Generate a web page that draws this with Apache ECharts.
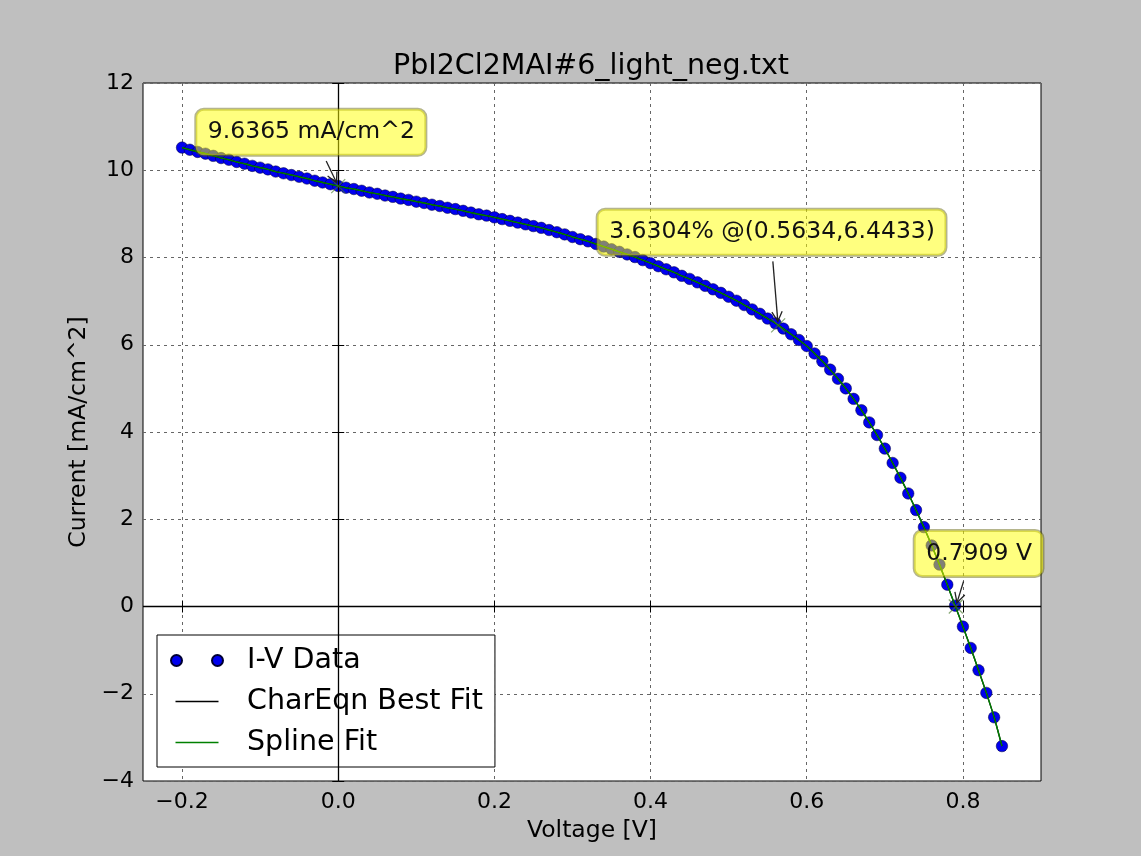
<!DOCTYPE html>
<html><head><meta charset="utf-8">
<script src="https://cdn.jsdelivr.net/npm/echarts@6/dist/echarts.min.js"></script>
<style>html,body{margin:0;padding:0;background:#bfbfbf}#c{width:1141px;height:856px}</style>
</head><body><div id="c"></div>
<script>
const voltage = [-0.20,-0.19,-0.18,-0.17,-0.16,-0.15,-0.14,-0.13,-0.12,-0.11,-0.10,-0.09,-0.08,-0.07,-0.06,-0.05,-0.04,-0.03,-0.02,-0.01,
0.00,0.01,0.02,0.03,0.04,0.05,0.06,0.07,0.08,0.09,0.10,0.11,0.12,0.13,0.14,0.15,0.16,0.17,0.18,0.19,
0.20,0.21,0.22,0.23,0.24,0.25,0.26,0.27,0.28,0.29,0.30,0.31,0.32,0.33,0.34,0.35,0.36,0.37,0.38,0.39,
0.40,0.41,0.42,0.43,0.44,0.45,0.46,0.47,0.48,0.49,0.50,0.51,0.52,0.53,0.54,0.55,0.56,0.57,0.58,0.59,
0.60,0.61,0.62,0.63,0.64,0.65,0.66,0.67,0.68,0.69,0.70,0.71,0.72,0.73,0.74,0.75,0.76,0.77,0.78,0.79,
0.80,0.81,0.82,0.83,0.84,0.85];
const current = [10.52,10.47,10.42,10.38,10.33,10.28,10.24,10.19,10.15,10.10,10.06,10.02,9.97,9.93,9.89,9.85,9.81,9.76,9.72,9.68,
9.64,9.60,9.57,9.53,9.49,9.46,9.42,9.39,9.35,9.32,9.28,9.25,9.21,9.18,9.14,9.11,9.07,9.03,8.99,8.96,
8.92,8.88,8.84,8.80,8.76,8.72,8.68,8.63,8.58,8.53,8.47,8.42,8.37,8.31,8.25,8.19,8.13,8.07,8.01,7.94,
7.87,7.80,7.73,7.66,7.58,7.51,7.43,7.35,7.27,7.19,7.10,7.01,6.91,6.81,6.71,6.60,6.49,6.37,6.24,6.11,
5.97,5.80,5.62,5.43,5.22,5.00,4.76,4.50,4.22,3.93,3.62,3.29,2.95,2.59,2.21,1.82,1.40,0.96,0.50,0.02,
-0.46,-0.95,-1.46,-1.98,-2.54,-3.20];
const xTicks = [-0.2,0.0,0.2,0.4,0.6,0.8];
const yTicks = [-4,-2,0,2,4,6,8,10,12];
const annoTexts = ['9.6365 mA/cm^2','3.6304% @(0.5634,6.4433)','0.7909 V'];
const annoTargets = [[0,9.6365],[0.5634,6.4433],[0.7909,0]];
const annoTextAnchors = [[-0.167,10.87],[0.347,8.58],[0.753,1.216]];
const annoArrowStarts = [[-0.0154,10.21],[0.5566,7.91],[0.8008,0.573]];

const FONT = 'DejaVu Sans';
const pts = voltage.map((v,i)=>[v,current[i]]);
const minus = s => String(s).replace('-', '\u2212');
const twoDots = 'path://M0,5.5A5.5,5.5,0,1,1,11,5.5A5.5,5.5,0,1,1,0,5.5ZM41,5.5A5.5,5.5,0,1,1,52,5.5A5.5,5.5,0,1,1,41,5.5Z';
const lineIcon = 'path://M0,0M52,11M4.5,4.8h43v1.4h-43z';

const chart = echarts.init(document.getElementById('c'), null, {renderer:'canvas'});
const gridLine = {show:true, lineStyle:{color:'#666', type:[3,4], width:1}};
const tickStyle = {color:'#000', width:1};
chart.setOption({
  animation:false,
  backgroundColor:'#bfbfbf',
  title:{text:'PbI2Cl2MAI#6_light_neg.txt', left:586, top:47, textAlign:'center',
    textStyle:{fontFamily:FONT, fontSize:28.5, fontWeight:'normal', color:'#000'}},
  grid:{left:143, top:83, right:100, bottom:75, show:true, backgroundColor:'#fff', borderColor:'#000', borderWidth:1},
  legend:{orient:'vertical', left:157, top:635, selectedMode:false,
    data:[{name:'I-V Data', icon:twoDots},{name:'CharEqn Best Fit', icon:lineIcon},{name:'Spline Fit', icon:lineIcon}],
    itemWidth:52, itemHeight:11, itemGap:12, padding:[11,12,10,13],
    backgroundColor:'#fff', borderColor:'#000', borderWidth:1, borderRadius:0,
    textStyle:{fontFamily:FONT, fontSize:28.5, color:'#000', padding:[0,0,0,19]}},
  xAxis:[
    {type:'value', min:-0.25, max:0.9, position:'bottom',
     axisLine:{show:false},
     axisTick:{show:true, inside:true, length:6, customValues:xTicks, lineStyle:tickStyle},
     axisLabel:{customValues:xTicks, formatter:v=>minus(v.toFixed(1)), margin:10, fontFamily:FONT, fontSize:22, color:'#000'},
     splitLine:gridLine,
     name:'Voltage [V]', nameLocation:'middle', nameGap:38,
     nameTextStyle:{fontFamily:FONT, fontSize:23.5, color:'#000'}},
    {type:'value', min:-0.25, max:0.9, position:'top',
     axisLine:{show:false},
     axisTick:{show:true, inside:true, length:6, customValues:xTicks, lineStyle:tickStyle},
     axisLabel:{show:false}, splitLine:{show:false}}
  ],
  yAxis:[
    {type:'value', min:-4, max:12, interval:2, position:'left',
     axisLine:{show:false},
     axisTick:{show:true, inside:true, length:6, lineStyle:tickStyle},
     axisLabel:{formatter:v=>minus(v), margin:9, fontFamily:FONT, fontSize:22, color:'#000'},
     splitLine:gridLine,
     name:'Current [mA/cm^2]', nameLocation:'middle', nameGap:51,
     nameTextStyle:{fontFamily:FONT, fontSize:23.5, color:'#000'}},
    {type:'value', min:-4, max:12, interval:2, position:'right',
     axisLine:{show:false},
     axisTick:{show:true, inside:true, length:6, lineStyle:tickStyle},
     axisLabel:{show:false}, splitLine:{show:false}}
  ],
  series:[
    {name:'I-V Data', type:'scatter', data:pts, symbol:'circle', symbolSize:11.5, z:2,
     itemStyle:{color:'#0000ee', borderColor:'#000033', borderWidth:0.5, opacity:1},
     markLine:{silent:true, symbol:'none', label:{show:false}, animation:false,
       lineStyle:{color:'#000', type:'solid', width:1.3},
       data:[{xAxis:0},{yAxis:0}]}},
    {name:'CharEqn Best Fit', type:'line', data:pts, symbol:'none', showSymbol:false, smooth:0.2, z:3,
     lineStyle:{color:'#000', width:1.4}, itemStyle:{color:'#000'}},
    {name:'Spline Fit', type:'line', data:pts, symbol:'none', showSymbol:false, smooth:0.2, z:4,
     lineStyle:{color:'#008000', width:1.4}, itemStyle:{color:'#008000'}},
    {name:'keyPoints', type:'scatter', data:annoTargets, symbol:'path://M0,0L10,10M10,0L0,10', symbolSize:14, z:5,
     itemStyle:{color:'rgba(0,0,0,0)', borderColor:'rgba(70,120,40,0.8)', borderWidth:1.2}}
  ]
});

const g = [];
annoTexts.forEach((t,i)=>{
  const a = chart.convertToPixel({gridIndex:0}, annoTextAnchors[i]);
  const s = chart.convertToPixel({gridIndex:0}, annoArrowStarts[i]);
  const e = chart.convertToPixel({gridIndex:0}, annoTargets[i]);
  const dx = e[0]-s[0], dy = e[1]-s[1], L = Math.hypot(dx,dy);
  const ux = dx/L, uy = dy/L;
  const tip = [e[0]-ux*4, e[1]-uy*4];
  const ang = 28*Math.PI/180, hl = 11;
  const h1 = [tip[0]-hl*(ux*Math.cos(ang)-uy*Math.sin(ang)), tip[1]-hl*(uy*Math.cos(ang)+ux*Math.sin(ang))];
  const h2 = [tip[0]-hl*(ux*Math.cos(ang)+uy*Math.sin(ang)), tip[1]-hl*(uy*Math.cos(ang)-ux*Math.sin(ang))];
  g.push({type:'text', z:100, x:a[0]-12, y:a[1],
    style:{text:t, fontFamily:FONT, fontSize:23.5, fill:'#111', verticalAlign:'middle', align:'left',
      backgroundColor:'rgba(255,255,0,0.5)', borderColor:'rgba(90,90,0,0.45)', borderWidth:1.5,
      borderRadius:8, padding:[11,11,11,12]}});
  g.push({type:'polyline', z:101, shape:{points:[s, tip]}, style:{stroke:'#222', lineWidth:1.3, fill:null}});
  g.push({type:'polyline', z:101, shape:{points:[h1, tip, h2]}, style:{stroke:'#222', lineWidth:1.3, fill:null}});
});
chart.setOption({graphic:g});
</script></body></html>
